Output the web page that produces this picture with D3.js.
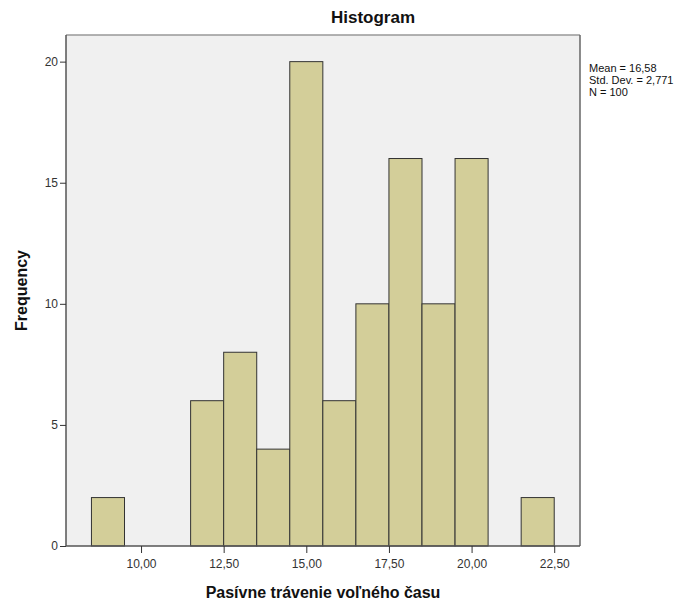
<!DOCTYPE html>
<html>
<head>
<meta charset="utf-8">
<script src="https://cdn.jsdelivr.net/npm/d3@7"></script>
<style>
  body { margin: 0; background: #fff; }
  text { font-family: "Liberation Sans", Arial, sans-serif; }
</style>
</head>
<body>
<svg id="chart" width="695" height="608"></svg>
<script>
  // bin centres (width 1) and their counts
  var binCenters = [9, 12, 13, 14, 15, 16, 17, 18, 19, 20, 22];
  var counts = [2, 6, 8, 4, 20, 6, 10, 16, 10, 16, 2];
  var xTicks = [10, 12.5, 15, 17.5, 20, 22.5];
  var yTicks = [0, 5, 10, 15, 20];
  var statLines = ["Mean = 16,58", "Std. Dev. = 2,771", "N = 100"];

  var svg = d3.select("#chart"),
    margin = { top: 35, right: 115, bottom: 62, left: 66 },
    width = +svg.attr("width") - margin.left - margin.right,
    height = +svg.attr("height") - margin.top - margin.bottom;

  var x = d3.scaleLinear().domain([7.73, 23.28]).range([0, width]),
    y = d3.scaleLinear().domain([0, 21.1]).range([height, 0]);

  var fmt = function (d) { return d3.format(".2f")(d).replace(".", ","); };

  var g = svg.append("g")
    .attr("transform", "translate(" + margin.left + "," + margin.top + ")");

  g.append("rect")
    .attr("width", width)
    .attr("height", height)
    .attr("fill", "#f0f0f0");

  g.selectAll(".bar")
    .data(binCenters)
    .enter()
    .append("rect")
    .attr("class", "bar")
    .attr("x", function (d) { return x(d - 0.5); })
    .attr("y", function (d, i) { return y(counts[i]); })
    .attr("width", function (d) { return x(d + 0.5) - x(d - 0.5); })
    .attr("height", function (d, i) { return height - y(counts[i]); })
    .attr("fill", "#d3ce99")
    .attr("stroke", "#333")
    .attr("stroke-width", 1);

  // frame
  g.append("line").attr("x1", 0).attr("x2", width).attr("y1", 0).attr("y2", 0)
    .attr("stroke", "#999").attr("stroke-width", 1.5);
  g.append("line").attr("x1", width).attr("x2", width).attr("y1", 0).attr("y2", height)
    .attr("stroke", "#666").attr("stroke-width", 1.5);

  var xAxis = g.append("g")
    .attr("transform", "translate(0," + height + ")")
    .call(d3.axisBottom(x).tickValues(xTicks).tickFormat(fmt).tickSizeOuter(0).tickSize(7).tickPadding(6));

  var yAxis = g.append("g")
    .call(d3.axisLeft(y).tickValues(yTicks).tickSizeOuter(0).tickSize(6).tickPadding(2));

  [xAxis, yAxis].forEach(function (a) {
    a.select(".domain").attr("stroke", "#555").attr("stroke-width", 1.5);
    a.selectAll(".tick line").attr("stroke", "#333");
    a.selectAll("text").attr("fill", "#333").style("font-size", "12px")
      .style("font-family", "'Liberation Sans', Arial, sans-serif");
  });
  xAxis.select(".domain").attr("d", "M0,0H" + width);
  yAxis.select(".domain").attr("d", "M0,0V" + height);

  svg.append("text")
    .attr("x", 373)
    .attr("y", 23)
    .attr("text-anchor", "middle")
    .style("font-size", "17px")
    .style("font-weight", "bold")
    .attr("fill", "#111")
    .text("Histogram");

  svg.append("text")
    .attr("x", margin.left + width / 2)
    .attr("y", 598)
    .attr("text-anchor", "middle")
    .style("font-size", "16px")
    .style("font-weight", "bold")
    .attr("fill", "#111")
    .text("Pasívne trávenie voľného času");

  svg.append("text")
    .attr("transform", "translate(27," + (margin.top + height / 2) + ") rotate(-90)")
    .attr("text-anchor", "middle")
    .style("font-size", "16px")
    .style("font-weight", "bold")
    .attr("fill", "#111")
    .text("Frequency");

  svg.append("g").selectAll("text")
    .data(statLines)
    .enter()
    .append("text")
    .attr("x", 589)
    .attr("y", function (d, i) { return 72 + i * 12; })
    .style("font-size", "11px")
    .attr("fill", "#111")
    .text(function (d) { return d; });
</script>
</body>
</html>
